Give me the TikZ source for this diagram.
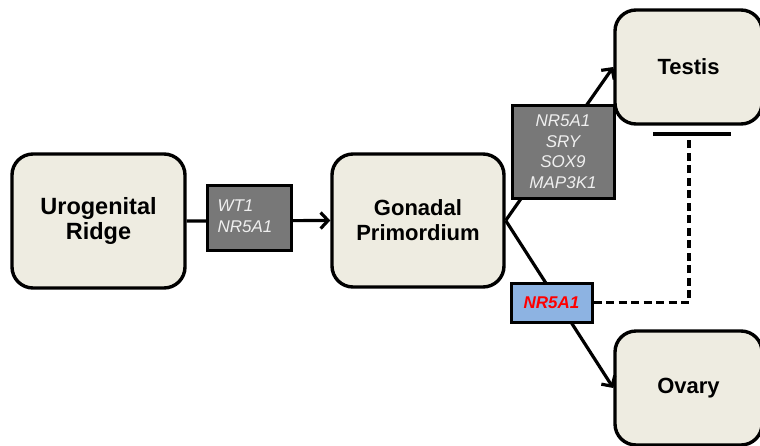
\documentclass[tikz,border=0pt]{standalone}
\usepackage{fontspec}
\setmainfont{Liberation Sans}
\usetikzlibrary{arrows.meta}
\definecolor{boxfill}{HTML}{EEECE1}
\definecolor{genefill}{HTML}{787878}
\definecolor{genetext}{HTML}{EFEFEF}
\definecolor{bluefill}{HTML}{8DB3E2}
\begin{document}
\begin{tikzpicture}[x=1pt,y=-1pt,
  stage/.style={draw=black, line width=3.4pt, fill=boxfill, rounded corners=21pt,
    align=center, font=\fontsize{22}{25}\selectfont\bfseries, inner sep=0pt},
  genebox/.style={draw=black, line width=3pt, fill=genefill, text=genetext,
    font=\fontsize{17}{20.5}\selectfont\itshape, inner sep=0pt},
  bluebox/.style={draw=black, line width=3pt, fill=bluefill, text=red,
    font=\fontsize{17}{20}\selectfont\bfseries\itshape, inner sep=0pt,
    minimum width=81pt, minimum height=39pt},
  link/.style={line width=3.2pt, draw=black},
  arr/.style={link, -{Straight Barb[length=7.5pt,width=16pt,line width=3.2pt]}},
  inhib/.style={line width=3.2pt, draw=black, dash pattern=on 8pt off 4.5pt}
]
\clip (0,0) rectangle (760,445);
\fill[white] (0,0) rectangle (760,445);

\node[stage, minimum width=173pt, minimum height=134pt, font=\fontsize{23.5}{25}\selectfont\bfseries] (uro) at (98.5,221) {Urogenital\\Ridge};
\node[stage, minimum width=172pt, minimum height=133pt] (gon) at (418,220.5) {Gonadal\\Primordium};
\node[stage, minimum width=147pt, minimum height=114pt] (tes) at (688.5,67) {Testis};
\node[stage, minimum width=147pt, minimum height=114pt] (ova) at (688.5,388) {Ovary};

\draw[arr] (uro.east) -- (gon.west);
\draw[arr] (gon.east) -- (tes.west);
\draw[arr] (gon.east) -- (ova.west);

\node[genebox, minimum width=84pt, minimum height=65pt, text width=64pt, align=left] (wt) at (249.5,218) {\raisebox{4pt}{\begin{tabular}{@{}l@{}}WT1\\NR5A1\end{tabular}}};
\node[genebox, minimum width=102pt, minimum height=93pt, align=center] (sry) at (563,151.5) {NR5A1\\SRY\\SOX9\\MAP3K1};
\node[bluebox] (blue) at (551.5,302.5) {NR5A1};

\coordinate (barL) at (653,134);
\coordinate (barR) at (731,134);
\coordinate (barM) at (689,137);
\draw[link] (barL) -- (barR);
\draw[inhib] (blue.east) -| (barM);
\end{tikzpicture}
\end{document}
